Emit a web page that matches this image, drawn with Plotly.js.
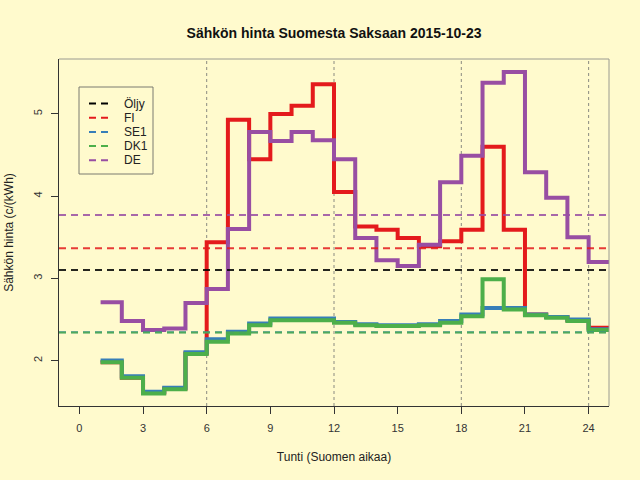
<!DOCTYPE html>
<html>
<head>
<meta charset="utf-8">
<script src="https://cdn.plot.ly/plotly-3.0.1.min.js"></script>
<style>
  html, body { margin: 0; padding: 0; background: #fffacd; }
  #chart { width: 640px; height: 480px; }
</style>
</head>
<body>
<div id="chart"></div>
<script>
// tunnit 1..24 (askelkuvaaja, viimeinen arvo jatkuu tunnille 25)
const hours = [1, 2, 3, 4, 5, 6, 7, 8, 9, 10, 11, 12, 13, 14, 15, 16, 17, 18, 19, 20, 21, 22, 23, 24, 25];

// hinnat c/kWh kuvasta luettuna
const fi = [1.98, 1.79, 1.61, 1.66, 2.09, 3.44, 4.93, 4.45, 5.00, 5.10, 5.36, 4.05,
            3.63, 3.59, 3.49, 3.39, 3.45, 3.59, 4.60, 3.59, 2.56, 2.53, 2.49, 2.40];
const se1 = [2.00, 1.81, 1.62, 1.67, 2.10, 2.26, 2.35, 2.45, 2.51, 2.51, 2.51, 2.47,
             2.44, 2.43, 2.43, 2.44, 2.48, 2.56, 2.64, 2.64, 2.56, 2.53, 2.50, 2.38];
const dk1 = [1.98, 1.79, 1.60, 1.65, 2.08, 2.23, 2.33, 2.43, 2.49, 2.49, 2.49, 2.46,
             2.43, 2.42, 2.42, 2.43, 2.46, 2.54, 2.99, 2.62, 2.55, 2.52, 2.48, 2.37];
const de = [2.71, 2.48, 2.37, 2.39, 2.70, 2.87, 3.60, 4.78, 4.67, 4.78, 4.68, 4.45,
            3.49, 3.22, 3.15, 3.41, 4.17, 4.49, 5.38, 5.51, 4.29, 3.98, 3.50, 3.20];

// vaakaviivat (päivän keskiarvot + öljy)
const legendNames = ['Öljy', 'FI', 'SE1', 'DK1', 'DE'];
const levels = [3.10, 3.365, 2.345, 2.34, 3.77];
const colors = ['#000000', '#E41A1C', '#377EB8', '#4DAF4A', '#984EA3'];

const xTicks = [0, 3, 6, 9, 12, 15, 18, 21, 24];
const yTicks = [2, 3, 4, 5];
const dottedAt = [6, 12, 18, 24];

const bg = '#fffacd';
const font = 'Liberation Sans, Arial, sans-serif';

// askelviiva: viimeinen arvo toistetaan jotta viimeinen tunti piirtyy
function stepTrace(values, color) {
  return {
    x: hours,
    y: values.concat(values[values.length - 1]),
    type: 'scatter',
    mode: 'lines',
    line: { shape: 'hv', color: color, width: 4 },
    hoverinfo: 'skip',
  };
}

// piirtojärjestys kuten alkuperäisessä
const data = [
  stepTrace(fi, colors[1]),
  stepTrace(se1, colors[2]),
  stepTrace(dk1, colors[3]),
  stepTrace(de, colors[4]),
];

const shapes = [];
// pystysuorat pisteviivat
dottedAt.forEach((x) => {
  shapes.push({
    type: 'line', layer: 'below', xref: 'x', yref: 'paper',
    x0: x, x1: x, y0: 0, y1: 1,
    line: { color: '#8a8a80', width: 1, dash: 'dot' },
  });
});
// keskiarvoviivat päälle
levels.forEach((lv, i) => {
  shapes.push({
    type: 'line', layer: 'above', xref: 'paper', yref: 'y',
    x0: 0, x1: 1, y0: lv, y1: lv,
    line: { color: colors[i], width: 2, dash: '7px,5px' },
    opacity: 0.85,
  });
});
// laatikon yläreuna ja oikea reuna
shapes.push({ type: 'line', layer: 'above', xref: 'paper', yref: 'paper',
  x0: 0, x1: 1, y0: 1, y1: 1, line: { color: '#9a9a90', width: 1 } });
shapes.push({ type: 'line', layer: 'above', xref: 'paper', yref: 'paper',
  x0: 1, x1: 1, y0: 0, y1: 1, line: { color: '#9a9a90', width: 1 } });

// selite käsin (R-tyylinen tiivis laatikko)
const plotW = 550, plotH = 347;
const px = (p) => p / plotW;
const py = (p) => 1 - p / plotH;
shapes.push({
  type: 'rect', layer: 'above', xref: 'paper', yref: 'paper',
  x0: px(20), x1: px(94), y0: py(28), y1: py(115),
  line: { color: '#7a7a70', width: 1 }, fillcolor: bg,
});
const annotations = [];
legendNames.forEach((name, i) => {
  const rowY = py(44.5 + i * 14.2);
  shapes.push({
    type: 'line', layer: 'above', xref: 'paper', yref: 'paper',
    x0: px(30), x1: px(50), y0: rowY, y1: rowY,
    line: { color: colors[i], width: 2, dash: '7px,5px' },
  });
  annotations.push({
    xref: 'paper', yref: 'paper', x: px(63), y: rowY,
    xanchor: 'left', yanchor: 'middle', showarrow: false,
    text: name, font: { family: font, size: 12, color: '#222' },
  });
});

const layout = {
  width: 640,
  height: 480,
  paper_bgcolor: bg,
  plot_bgcolor: bg,
  showlegend: false,
  margin: { l: 59, r: 31, t: 59, b: 74, pad: 0 },
  title: {
    text: '<b>Sähkön hinta Suomesta Saksaan 2015-10-23</b>',
    font: { family: font, size: 14, color: '#111' },
    x: 0.522, xanchor: 'center', y: 0.931, yanchor: 'middle',
  },
  xaxis: {
    range: [-0.96, 24.96],
    tickvals: xTicks,
    ticktext: xTicks.map(String),
    showgrid: false,
    zeroline: false,
    showline: true,
    linecolor: '#333',
    linewidth: 1,
    ticks: 'outside',
    ticklen: 7,
    tickcolor: '#333',
    ticklabelstandoff: 5,
    tickfont: { family: font, size: 11, color: '#333' },
    title: {
      text: 'Tunti (Suomen aikaa)',
      font: { family: font, size: 12, color: '#222' },
      standoff: 19,
    },
  },
  yaxis: {
    range: [1.447, 5.668],
    tickvals: yTicks,
    ticktext: yTicks.map(String),
    tickangle: -90,
    showgrid: false,
    zeroline: false,
    showline: true,
    linecolor: '#333',
    linewidth: 1,
    ticks: 'outside',
    ticklen: 7,
    tickcolor: '#333',
    ticklabelstandoff: 5,
    tickfont: { family: font, size: 11, color: '#333' },
    title: {
      text: 'Sähkön hinta (c/(kWh)',
      font: { family: font, size: 12, color: '#222' },
      standoff: 15,
    },
  },
  shapes: shapes,
  annotations: annotations,
};

Plotly.newPlot('chart', data, layout, { staticPlot: true });
</script>
</body>
</html>
